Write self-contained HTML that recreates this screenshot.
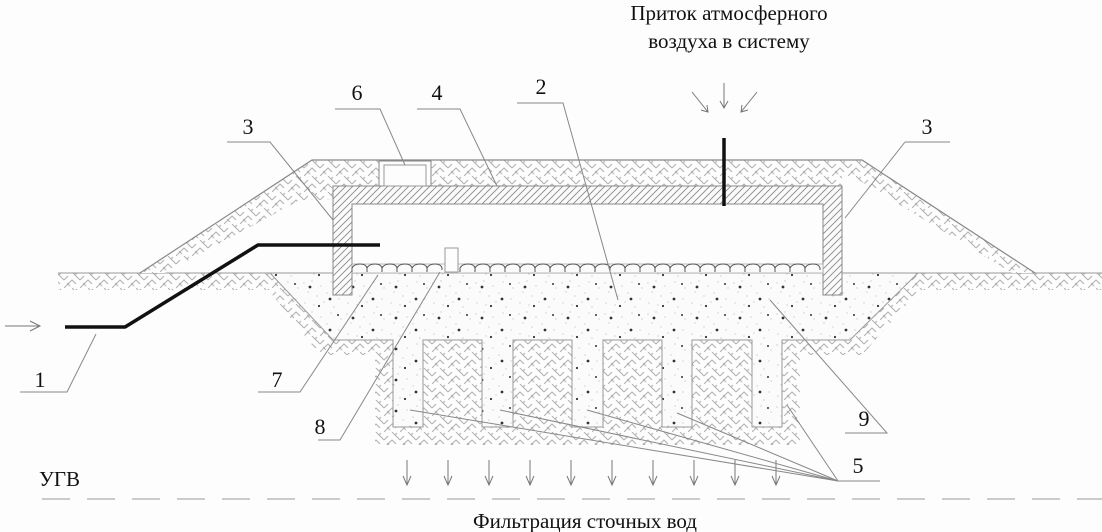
<!DOCTYPE html>
<html><head><meta charset="utf-8"><style>
html,body{margin:0;padding:0;background:#fdfdfd;}
svg{display:block;}
text{font-family:"Liberation Serif","DejaVu Serif",serif;fill:#111;}
</style></head><body>
<svg width="1102" height="532" viewBox="0 0 1102 532" xmlns="http://www.w3.org/2000/svg">
<defs>
<pattern id="soil" width="16" height="16" patternUnits="userSpaceOnUse">
<rect width="16" height="16" fill="#fdfdfd"/>
<path d="M0 16 L8 8 L12 12 M8 0 L16 8 M0 8 L4 4 M3 11 L6 14 M11 3 L13 1" stroke="#b0b0b0" stroke-width="1" fill="none"/>
</pattern>
<pattern id="diag" width="7" height="7" patternUnits="userSpaceOnUse">
<rect width="7" height="7" fill="#fbfbfb"/>
<path d="M0 7 L7 0 M-1 1 L1 -1 M6 8 L8 6" stroke="#8a8a8a" stroke-width="0.9"/>
</pattern>
<pattern id="sand" width="43" height="31" patternUnits="userSpaceOnUse">
<rect width="43" height="31" fill="#fbfbfb"/>
<g fill="#bbb"><circle cx="3" cy="4" r="0.6"/><circle cx="11" cy="2" r="0.6"/><circle cx="20" cy="7" r="0.6"/><circle cx="30" cy="3" r="0.6"/><circle cx="7" cy="13" r="0.6"/><circle cx="16" cy="17" r="0.6"/><circle cx="26" cy="14" r="0.6"/><circle cx="38" cy="20" r="0.6"/><circle cx="4" cy="24" r="0.6"/><circle cx="13" cy="26" r="0.6"/><circle cx="23" cy="23" r="0.6"/><circle cx="33" cy="28" r="0.6"/><circle cx="40" cy="9" r="0.6"/></g>
<g fill="#333"><circle cx="9" cy="8" r="1.4"/><circle cx="29" cy="20" r="1.4"/><circle cx="18" cy="27" r="1.1"/><circle cx="37" cy="5" r="1"/></g>
</pattern>
</defs>

<path d="M58 273 L270 273 L285 290 L58 290 Z" fill="url(#soil)"/>
<path d="M918 273 L1102 273 L1102 290 L902 290 Z" fill="url(#soil)"/>
<path d="M255 273 L270 273 L333 340 L850 340 L918 273 L935 273 L862 355 L800 355 L800 445 L375 445 L375 355 L320 355 Z" fill="url(#soil)"/>
<path d="M270 273 L918 273 L850 340 L782 340 L782 427 L752 427 L752 340 L692 340 L692 427 L662 427 L662 340 L603 340 L603 427 L572 427 L572 340 L513 340 L513 427 L482 427 L482 340 L423 340 L423 427 L393 427 L393 340 L333 340 Z" fill="url(#sand)" stroke="#999" stroke-width="1"/>
<line x1="58" y1="273" x2="1102" y2="273" stroke="#999"/>

<path d="M140 273 L312 160 L862 160 L1035 273 L1012 273 L852 176 L842 176 L842 186 L333 186 L333 200 L300 200 L165 273 Z" fill="url(#soil)"/>
<path d="M140 273 L312 160 L862 160 L1035 273" fill="none" stroke="#888" stroke-width="1.2"/>

<path d="M333 186 L842 186 L842 295 L823 295 L823 204 L352 204 L352 295 L333 295 Z" fill="url(#diag)" stroke="#888"/>
<line x1="352" y1="204" x2="823" y2="204" stroke="#888"/>
<rect x="379" y="161" width="52" height="25" fill="#fdfdfd" stroke="#888"/>
<rect x="384" y="165" width="42" height="21" fill="none" stroke="#999"/>
<rect x="352" y="264" width="471" height="9" fill="#fbfbfb" stroke="#aaa" stroke-width="0.8"/>
<path d="M352 272 v-4 q2 -4 8 -4 q6 0 7 4 v2 M367 272 v-4 q2 -4 8 -4 q6 0 7 4 v2 M382 272 v-4 q2 -4 8 -4 q6 0 7 4 v2 M397 272 v-4 q2 -4 8 -4 q6 0 7 4 v2 M412 272 v-4 q2 -4 8 -4 q6 0 7 4 v2 M427 272 v-4 q2 -4 8 -4 q6 0 7 4 v2 M460 272 v-4 q2 -4 8 -4 q6 0 7 4 v2 M475 272 v-4 q2 -4 8 -4 q6 0 7 4 v2 M490 272 v-4 q2 -4 8 -4 q6 0 7 4 v2 M505 272 v-4 q2 -4 8 -4 q6 0 7 4 v2 M520 272 v-4 q2 -4 8 -4 q6 0 7 4 v2 M535 272 v-4 q2 -4 8 -4 q6 0 7 4 v2 M550 272 v-4 q2 -4 8 -4 q6 0 7 4 v2 M565 272 v-4 q2 -4 8 -4 q6 0 7 4 v2 M580 272 v-4 q2 -4 8 -4 q6 0 7 4 v2 M595 272 v-4 q2 -4 8 -4 q6 0 7 4 v2 M610 272 v-4 q2 -4 8 -4 q6 0 7 4 v2 M625 272 v-4 q2 -4 8 -4 q6 0 7 4 v2 M640 272 v-4 q2 -4 8 -4 q6 0 7 4 v2 M655 272 v-4 q2 -4 8 -4 q6 0 7 4 v2 M670 272 v-4 q2 -4 8 -4 q6 0 7 4 v2 M685 272 v-4 q2 -4 8 -4 q6 0 7 4 v2 M700 272 v-4 q2 -4 8 -4 q6 0 7 4 v2 M715 272 v-4 q2 -4 8 -4 q6 0 7 4 v2 M730 272 v-4 q2 -4 8 -4 q6 0 7 4 v2 M745 272 v-4 q2 -4 8 -4 q6 0 7 4 v2 M760 272 v-4 q2 -4 8 -4 q6 0 7 4 v2 M775 272 v-4 q2 -4 8 -4 q6 0 7 4 v2 M790 272 v-4 q2 -4 8 -4 q6 0 7 4 v2 M805 272 v-4 q2 -4 8 -4 q6 0 7 4 v2" fill="none" stroke="#555" stroke-width="1"/>
<rect x="445" y="248" width="13" height="24" fill="#fdfdfd" stroke="#999"/>

<polyline points="65,327 125,327 258,245 380,245" fill="none" stroke="#111" stroke-width="3.5"/>
<line x1="724" y1="138" x2="724" y2="206" stroke="#111" stroke-width="3.5"/>

<g stroke="#777" fill="none" stroke-width="1">
<path d="M692 92 L708 112 M701 110 L708 112 L707 105"/>
<path d="M724 83 L724 108 M720 101 L724 108 L728 101"/>
<path d="M757 92 L741 112 M742 105 L741 112 L748 110"/>
<path d="M5 326 L40 326 M30 321 L40 326 L30 331"/>
</g>
<g stroke="#777" fill="none" stroke-width="1">
<path d="M407 460 V485 M403 476 L407 485 L411 476"/>
<path d="M448 460 V485 M444 476 L448 485 L452 476"/>
<path d="M489 460 V485 M485 476 L489 485 L493 476"/>
<path d="M530 460 V485 M526 476 L530 485 L534 476"/>
<path d="M571 460 V485 M567 476 L571 485 L575 476"/>
<path d="M612 460 V485 M608 476 L612 485 L616 476"/>
<path d="M653 460 V485 M649 476 L653 485 L657 476"/>
<path d="M694 460 V485 M690 476 L694 485 L698 476"/>
<path d="M735 460 V485 M731 476 L735 485 L739 476"/>
<path d="M776 460 V485 M772 476 L776 485 L780 476"/>
</g>
<line x1="42" y1="499" x2="1102" y2="499" stroke="#999" stroke-width="1" stroke-dasharray="28,17"/>

<g stroke="#888" fill="none" stroke-width="1">
<polyline points="20,392 67,392 96,334"/>
<polyline points="258,392 300,392 378,275"/>
<polyline points="318,440 340,440 440,272"/>
<polyline points="845,433 887,433 770,300"/>
<polyline points="227,142 270,142 333,220"/>
<polyline points="905,142 950,142"/>
<line x1="905" y1="142" x2="845" y2="218"/>
<polyline points="335,109 380,109 405,165"/>
<polyline points="417,109 460,109 497,186"/>
<polyline points="517,103 563,103 618,300"/>
<line x1="838" y1="481" x2="880" y2="481"/>
<line x1="838" y1="481" x2="410" y2="410"/>
<line x1="838" y1="481" x2="500" y2="410"/>
<line x1="838" y1="481" x2="587" y2="410"/>
<line x1="838" y1="481" x2="677" y2="413"/>
<line x1="838" y1="481" x2="787" y2="405"/>
</g>

<g font-size="22">
<text x="40" y="387" text-anchor="middle">1</text>
<text x="277" y="387" text-anchor="middle">7</text>
<text x="320" y="434" text-anchor="middle">8</text>
<text x="864" y="426" text-anchor="middle">9</text>
<text x="858" y="473" text-anchor="middle">5</text>
<text x="248" y="134" text-anchor="middle">3</text>
<text x="927" y="134" text-anchor="middle">3</text>
<text x="357" y="100" text-anchor="middle">6</text>
<text x="437" y="100" text-anchor="middle">4</text>
<text x="541" y="94" text-anchor="middle">2</text>
</g>
<g font-size="21">
<text x="729" y="20" text-anchor="middle">Приток атмосферного</text>
<text x="729" y="48" text-anchor="middle">воздуха в систему</text>
<text x="39" y="486">УГВ</text>
<text x="585" y="528" text-anchor="middle">Фильтрация сточных вод</text>
</g>
</svg>
</body></html>
